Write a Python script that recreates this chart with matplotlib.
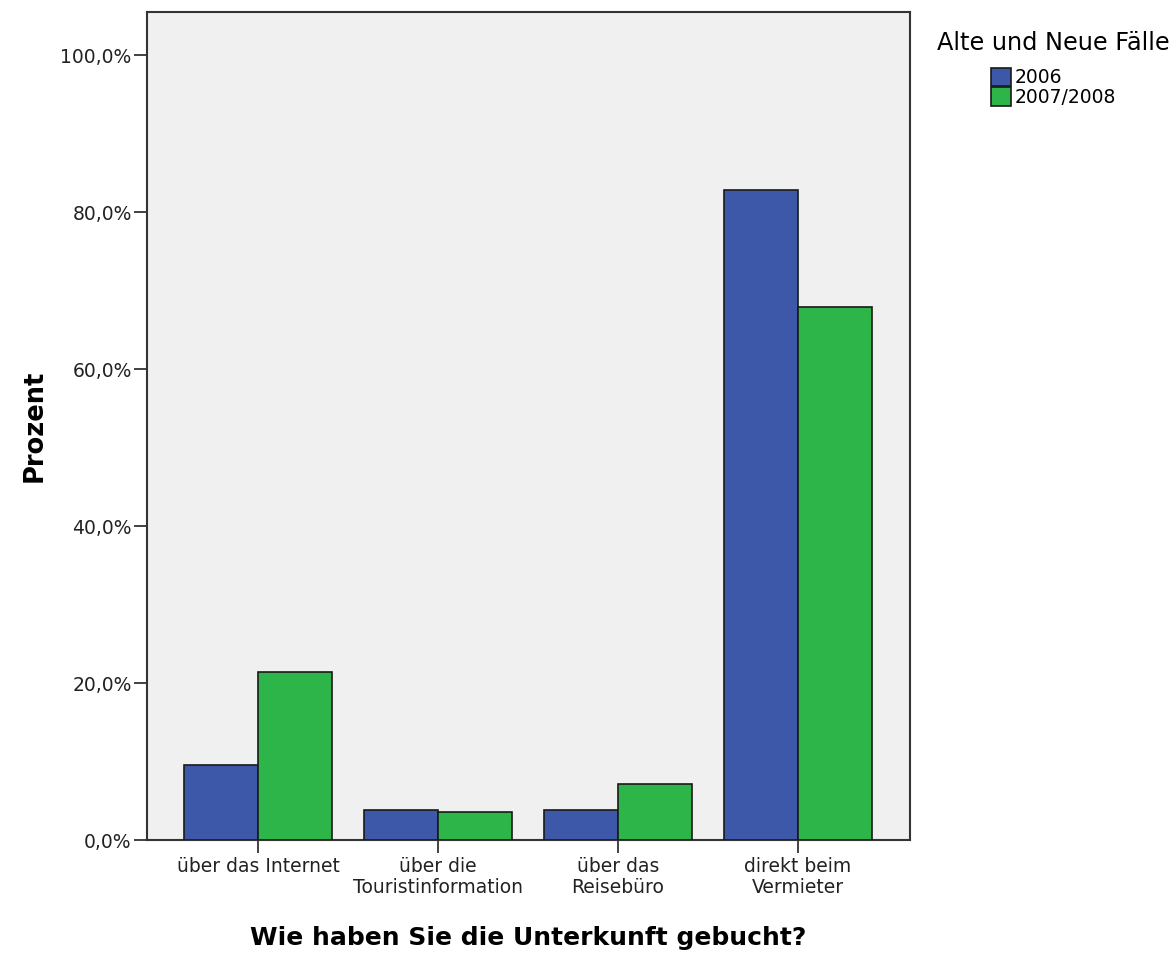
import matplotlib
matplotlib.use("Agg")
import matplotlib.pyplot as plt
import numpy as np

categories = ["über das Internet", "über die\nTouristinformation", "über das\nReisebüro", "direkt beim\nVermieter"]
series_names = ["2006", "2007/2008"]
values_2006 = [9.6, 3.8, 3.8, 82.8]
values_2007 = [21.4, 3.6, 7.1, 67.9]
yticks = [0, 20, 40, 60, 80, 100]
ytick_labels = ["0,0%", "20,0%", "40,0%", "60,0%", "80,0%", "100,0%"]

plt.rcParams['font.family'] = ['DejaVu Sans']

fig = plt.figure(figsize=(11.73, 9.58), dpi=100)
ax = fig.add_axes([147/1173, 1-840/958, (910-147)/1173, (840-12)/958])
ax.set_facecolor('#F0F0F0')

x = np.arange(len(categories))
w = 0.41
ec = '#1a1a1a'
ax.bar(x - w/2, values_2006, width=w, color='#3D58A8', edgecolor=ec, linewidth=1.2, label=series_names[0], zorder=3)
ax.bar(x + w/2, values_2007, width=w, color='#2DB54A', edgecolor=ec, linewidth=1.2, label=series_names[1], zorder=3)

ax.set_xlim(-0.617, 3.622)
ax.set_ylim(0, 105.5)
ax.set_yticks(yticks)
ax.set_yticklabels(ytick_labels, fontsize=13.5, color='#222222')
ax.set_xticks(x)
ax.set_xticklabels(categories, fontsize=13.5, color='#222222', linespacing=1.12)
ax.tick_params(axis='y', direction='out', length=9.5, width=1.3, color='#333333', pad=1.5)
ax.tick_params(axis='x', direction='out', length=9.5, width=1.3, color='#333333', pad=3)

for s in ax.spines.values():
    s.set_color('#333333')
    s.set_linewidth(1.5)

ax.set_xlabel("Wie haben Sie die Unterkunft gebucht?", fontsize=18, fontweight='bold', labelpad=21)
ax.set_ylabel("Prozent", fontsize=18.5, fontweight='bold', labelpad=9)

leg = ax.legend(title="Alte und Neue Fälle", loc='upper left', bbox_to_anchor=(937/1173, 1-31/958),
                bbox_transform=fig.transFigure, frameon=False, fontsize=13.5, title_fontsize=17.3,
                handlelength=1.07, handleheight=1.15, handletextpad=0.2, labelspacing=0.0, borderaxespad=0,
                borderpad=0)
leg._legend_box.sep = 9
for h in leg.legend_handles:
    h.set_edgecolor('#1a1a1a')
    h.set_linewidth(1.2)

fig.savefig("out.png", dpi=100)
